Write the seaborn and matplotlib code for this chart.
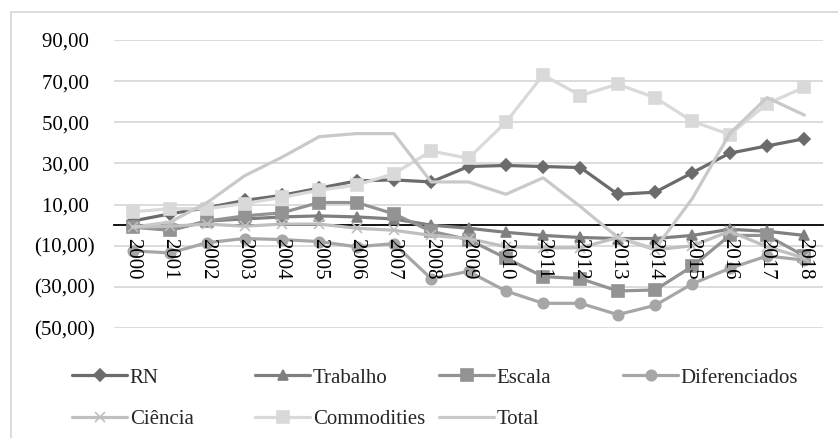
"""
Indicadores por grupo (2000-2018)
=================================

Gráfico de linhas em tons de cinza, no estilo do Excel.
"""

# Libraries
import pandas as pd
import seaborn as sns
import matplotlib.pyplot as plt
from matplotlib.patches import Rectangle
from matplotlib.ticker import FuncFormatter

# ---------------------------------
# Dados
# ---------------------------------
anos = list(range(2000, 2019))

rn = [2, 5.5, 8.5, 12, 14.5, 18, 21.5, 22, 21, 28.5, 29, 28.5, 28,
      15, 16, 25.5, 35, 38.5, 42]
trabalho = [0, -2.5, 2, 3, 4, 4.5, 4, 3, 0, -1.5, -3.5, -5, -6, -6.5,
            -6.5, -5, -2, -3, -5]
escala = [-1, -2.5, 2, 4.5, 6, 11, 11, 5.5, -3, -7, -16, -25, -26, -32,
          -31.5, -20, -5, -5, -15]
diferenciados = [-12.5, -13.5, -8.5, -6.5, -7, -8, -10.5, -9, -26, -22.5,
                 -32, -38, -38, -43.5, -39, -28.5, -21, -15, -17]
ciencia = [-1, -0.5, 0.5, -0.5, 0.5, 0.5, -1.5, -2.5, -5, -6.5, -10.5,
           -11, -11, -6, -12, -10, -3, -10.5, -16]
commodities = [6.5, 8, 8, 10.5, 13.5, 17, 19.5, 25, 36, 32.5, 50, 73, 63,
               68.5, 62, 50.5, 44, 59, 67]
total = [-1, 1.5, 11, 24, 33, 43, 44.5, 44.5, 21, 21, 15, 23, 9, -6,
         -11.5, 13, 44.5, 62, 53.5]

series = ['RN', 'Trabalho', 'Escala', 'Diferenciados',
          'Ciência', 'Commodities', 'Total']
valores = [rn, trabalho, escala, diferenciados, ciencia, commodities, total]

# Estilo de cada série
cores = ['#6b6b6b', '#7f7f7f', '#939393', '#a6a6a6',
         '#bfbfbf', '#d9d9d9', '#c9c9c9']
marcadores = ['D', '^', 's', 'o', 'x', 's', None]
tamanhos = [6, 7.5, 8.5, 7.5, 7, 8.5, 0]

# Formato longo
df = pd.DataFrame({'ano': anos})
for nome, vals in zip(series, valores):
    df[nome] = vals
df = df.melt(id_vars='ano', var_name='serie', value_name='valor')

# ---------------------------------
# Plot
# ---------------------------------
sns.set_theme(style="whitegrid")
plt.rcParams['font.family'] = ['Liberation Serif', 'DejaVu Serif']

fig = plt.figure(figsize=(8.38, 4.38), dpi=100)
ax = fig.add_axes([114 / 838, 110 / 438, 709 / 838, 288 / 438])

for nome, cor, mk, ms in zip(series, cores, marcadores, tamanhos):
    sns.lineplot(data=df[df.serie == nome], x='ano', y='valor',
                 color=cor, marker=mk, markersize=ms, mec=cor, mew=1.2,
                 linewidth=2.3, label=nome, ax=ax, zorder=3)

# Eixo horizontal cruzando no zero (antes dos rótulos: reinicia os ticks)
for lado in ['top', 'right', 'left']:
    ax.spines[lado].set_visible(False)
ax.spines['bottom'].set_position(('data', 0))
ax.spines['bottom'].set_color('black')
ax.spines['bottom'].set_linewidth(1.3)

# Eixos
ax.set_xlim(1999.5, 2018.5)
ax.set_ylim(-50, 90)
ax.set_xticks(anos)
ax.set_xticklabels([str(a) for a in anos])
ax.set_yticks(list(range(-50, 91, 20)))


def rotulo(v, pos):
    s = f"{abs(v):.2f}".replace('.', ',')
    return f"({s})" if v < 0 else s + ' '


ax.yaxis.set_major_formatter(FuncFormatter(rotulo))
ax.tick_params(axis='y', length=0, pad=14, labelsize=15, labelcolor='black')
ax.tick_params(axis='x', length=0, pad=9, labelsize=15, labelcolor='black',
               labelrotation=270)
plt.setp(ax.get_xticklabels(), ha='center', va='top')
ax.set(xlabel='', ylabel='')

ax.grid(axis='x', visible=False)
ax.grid(axis='y', color='#d9d9d9', linewidth=1.3)
ax.set_axisbelow(True)
ax.xaxis.set_zorder(4)

# Legenda: quatro colunas fixas, como no Excel
handles, labels = ax.get_legend_handles_labels()
ax.get_legend().remove()
colunas = [[0, 4], [1, 5], [2, 6], [3]]
inicio_x = [72, 255, 439, 623]
for idx, x0 in zip(colunas, inicio_x):
    fig.legend([handles[i] for i in idx], [labels[i] for i in idx],
               loc='upper left', bbox_to_anchor=(x0 / 838, 1 - 368 / 438),
               frameon=False, fontsize=15, borderpad=0, borderaxespad=0,
               handlelength=2.65, handletextpad=0.12, labelspacing=1.05)

# Moldura da área do gráfico
fig.add_artist(Rectangle((11 / 838, -0.05), 2, 0.05 + 426 / 438,
                         transform=fig.transFigure, fill=False,
                         edgecolor='#d9d9d9', linewidth=1.3))

fig.savefig('out.png', dpi=100)
